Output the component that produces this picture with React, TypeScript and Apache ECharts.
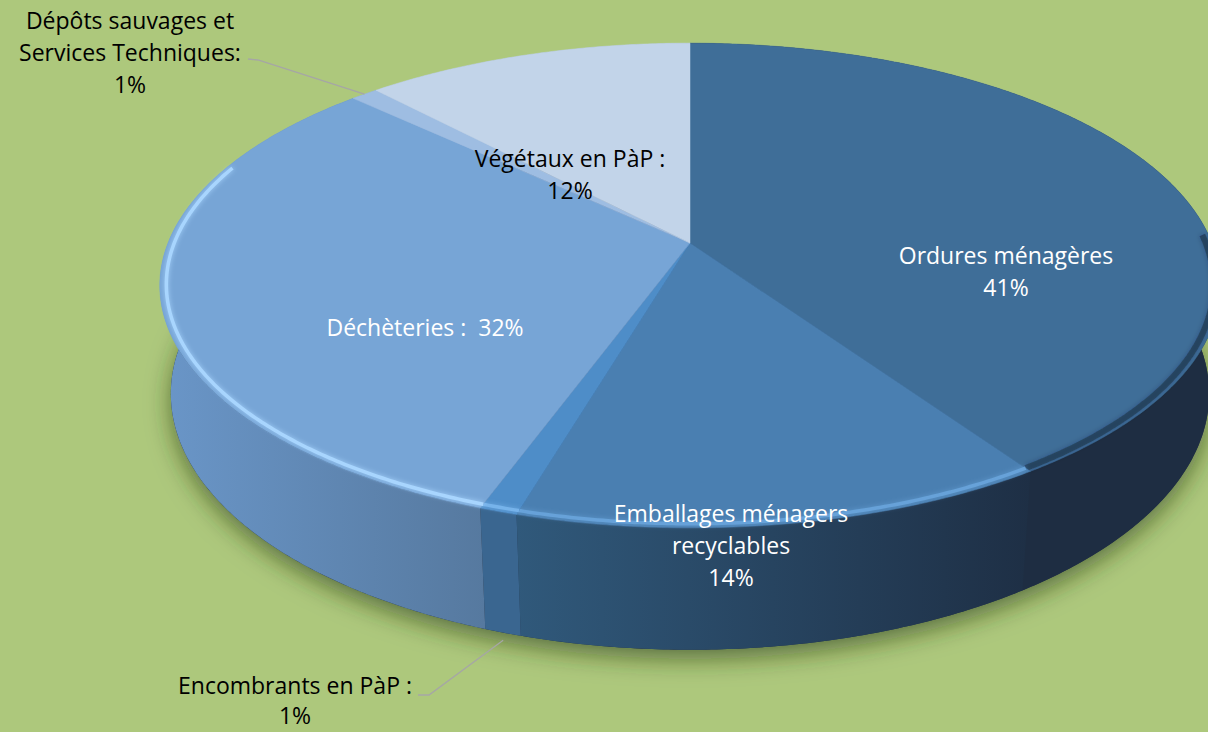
import React, { useEffect, useRef } from "react";
import * as echarts from "echarts";

// ---- data ----
const categories = [
  "Ordures ménagères",
  "Emballages ménagers recyclables",
  "Encombrants en PàP",
  "Déchèteries",
  "Dépôts sauvages et Services Techniques",
  "Végétaux en PàP",
];
const shares = [41, 14, 1, 32, 1, 12];
const labelPrefixes = [
  "Ordures ménagères\n",
  "Emballages ménagers\nrecyclables\n",
  "Encombrants en PàP :\n",
  "Déchèteries :  ",
  "Dépôts sauvages et\nServices Techniques:\n",
  "Végétaux en PàP :\n",
];

// ---- styles / layout ----
const topColors = ["#3F6E98", "#4A7FB1", "#4E8DC8", "#77A5D6", "#9EBDE2", "#C2D4E9"];
const sideColors = [
  ["#1E2D42", "#1E2D42"],
  ["#30597B", "#1E2F45"],
  ["#3A6690", "#3A6690"],
  ["#6A96C8", "#56799F"],
  ["#7F9CBE", "#7F9CBE"],
  ["#9FB1C6", "#9FB1C6"],
];
const rimColors = [
  "rgba(22,36,56,0.5)",
  "rgba(110,170,225,0.75)",
  "rgba(125,185,240,0.8)",
  "rgba(170,215,255,0.95)",
  "rgba(170,215,255,0.6)",
  "rgba(220,235,250,0.6)",
];
const labelColors = ["#FFFFFF", "#FFFFFF", "#000000", "#FFFFFF", "#000000", "#000000"];
const labelAnchors = [
  [1006, 271],
  [731, 545],
  [295, 700],
  [425, 327],
  [130, 52],
  [570, 174],
];
const labelLineHeights = [32, 32, 30, 32, 32, 32];
// leader line start (at the label) for outside labels, null otherwise
const leaderStarts: (number[] | null)[] = [null, null, [418, 695], null, [248, 59], null];
const leaderBends: (number[] | null)[] = [null, null, [429, 695], null, [258, 60], null];

const CX = 690;
const CY = 243;
const R = 522;
const SIN_T = 0.45;
const COS_T = 0.893;
const DIST = 2659;
const H = 122;
const BG = "#ADC87C";
const FONT = '"Open Sans", "Noto Sans", sans-serif';
const FONT_SIZE = 23;

function project(theta: number, r: number, z: number): number[] {
  const u = r * Math.sin(theta);
  const w = -r * Math.cos(theta);
  const depth = w * COS_T + z * SIN_T;
  const s = DIST / (DIST - depth);
  return [CX + u * s, CY + (w * SIN_T - z * COS_T) * s];
}

function arc(a0: number, a1: number, r: number, z: number): number[][] {
  const n = Math.max(2, Math.ceil(Math.abs(a1 - a0) / (Math.PI / 360)));
  const pts: number[][] = [];
  for (let i = 0; i <= n; i++) pts.push(project(a0 + ((a1 - a0) * i) / n, r, z));
  return pts;
}

const total = shares.reduce((a, b) => a + b, 0);
function sliceAngles(idx: number): number[] {
  let cum = 0;
  for (let i = 0; i < idx; i++) cum += shares[i];
  const a0 = (cum / total) * Math.PI * 2;
  const a1 = ((cum + shares[idx]) / total) * Math.PI * 2;
  return [a0, a1];
}

export default function App() {
  const ref = useRef<HTMLDivElement>(null);
  useEffect(() => {
    if (!ref.current) return;
    const chart = echarts.init(ref.current, undefined, { renderer: "svg" });
    const data = shares.map((v, i) => ({ name: categories[i], value: v }));

    const sidesRender = (params: any, api: any) => {
      const idx = params.dataIndex;
      const [a0, a1] = sliceAngles(idx);
      const children: any[] = [];
      if (idx === 0) {
        children.push({
          type: "polygon",
          shape: { points: arc(0, Math.PI * 2, R, -H) },
          style: {
            fill: "#1E2D42",
            shadowBlur: 24,
            shadowColor: "rgba(40,55,20,0.6)",
            shadowOffsetY: 9,
          },
        });
      }
      const top = arc(a0, a1, R, 0);
      const bottom = arc(a0, a1, R, -H).reverse();
      children.push({
        type: "polygon",
        shape: { points: top.concat(bottom) },
        style: {
          fill: new echarts.graphic.LinearGradient(0, 0, 1, 0, [
            { offset: 0, color: sideColors[idx][0] },
            { offset: 1, color: sideColors[idx][1] },
          ]),
        },
      });
      return { type: "group", children };
    };

    const rimStarts = [88, 55, 55, 55, 55, 55];
    const rimEnd = (290 / 180) * Math.PI;

    const topsRender = (params: any, api: any) => {
      const idx = params.dataIndex;
      const [a0, a1] = sliceAngles(idx);
      const children: any[] = [];
      children.push({
        type: "polygon",
        shape: { points: [project(0, 0, 0)].concat(arc(a0, a1, R, 0)) },
        style: { fill: topColors[idx], stroke: topColors[idx], lineWidth: 0.5 },
      });
      const r0 = Math.max(a0, (rimStarts[idx] / 180) * Math.PI);
      const r1 = Math.min(a1, rimEnd);
      if (r1 > r0) {
        children.push({
          type: "polyline",
          shape: { points: arc(r0, r1, R * 0.988, 0) },
          style: {
            stroke: rimColors[idx],
            lineWidth: idx === 0 ? 6 : 3.5,
            fill: null,
            shadowBlur: 5,
            shadowColor: rimColors[idx],
          },
        });
      }
      const val = api.value(0);
      const ls = leaderStarts[idx];
      const lb = leaderBends[idx];
      if (ls && lb) {
        const mid = (a0 + a1) / 2;
        const end = idx === 2 ? project(mid, R, -H - 8) : project(mid, R, 0);
        children.push({
          type: "polyline",
          shape: { points: [ls, lb, end] },
          style: { stroke: "#A6A6A6", lineWidth: 1.3, fill: null },
        });
      }
      children.push({
        type: "text",
        x: labelAnchors[idx][0],
        y: labelAnchors[idx][1],
        style: {
          text: labelPrefixes[idx] + val + "%",
          fill: labelColors[idx],
          font: `${FONT_SIZE}px ${FONT}`,
          fontFamily: FONT,
          fontSize: FONT_SIZE,
          align: "center",
          verticalAlign: "middle",
          lineHeight: labelLineHeights[idx],
        },
        z2: 50,
      });
      return { type: "group", children };
    };

    chart.setOption({
      animation: false,
      backgroundColor: BG,
      series: [
        {
          type: "custom",
          name: "sides",
          coordinateSystem: "none",
          silent: true,
          z: 2,
          data,
          renderItem: sidesRender,
        },
        {
          type: "custom",
          name: "tops",
          coordinateSystem: "none",
          silent: true,
          z: 3,
          data,
          renderItem: topsRender,
        },
      ],
    });
    return () => chart.dispose();
  }, []);
  return (
    <div
      ref={ref}
      style={{ position: "fixed", left: 0, top: 0, width: 1208, height: 732 }}
    />
  );
}
